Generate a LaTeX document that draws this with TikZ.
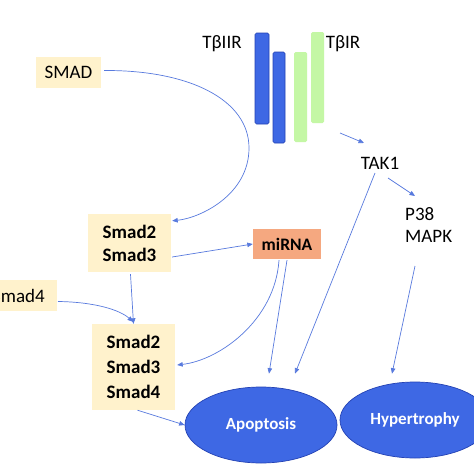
\documentclass[tikz,border=0pt]{standalone}
\usepackage{fontspec}
\setmainfont{Carlito}
\usetikzlibrary{arrows.meta,shapes.geometric}
\definecolor{boxyellow}{RGB}{255,242,204}
\definecolor{mirna}{RGB}{245,168,128}
\definecolor{cellblue}{RGB}{62,104,228}
\definecolor{cellborder}{RGB}{36,66,180}
\definecolor{rgreen}{RGB}{196,247,165}
\definecolor{arrowblue}{RGB}{88,122,222}
\begin{document}
\begin{tikzpicture}[x=1pt,y=-1pt,
  every node/.style={inner sep=0pt,font=\fontsize{19}{23}\selectfont},
  ybox/.style={fill=boxyellow,draw=none,rectangle,align=center},
  cell/.style={ellipse,fill=cellblue,draw=cellborder,line width=0.7pt,text=white,font=\fontsize{17}{23}\selectfont\bfseries},
  bar/.style={rectangle,rounded corners=1.5pt,line width=0.6pt},
  darkbar/.style={bar,fill=cellblue,draw=cellborder},
  greenbar/.style={bar,fill=rgreen,draw=none},
  arr/.style={draw=arrowblue,line width=0.7pt,-{Triangle[length=5.5pt,width=4.5pt]}},
  plain/.style={text=black}]
\useasboundingbox[fill=white] (0,0) rectangle (474,474);
% receptor bars
\node[darkbar,minimum width=14pt,minimum height=91pt] (b1) at (262,78.5) {};
\node[darkbar,minimum width=12pt,minimum height=91pt] (b2) at (279,97.5) {};
\node[greenbar,minimum width=13pt,minimum height=90pt] (b3) at (300.5,97) {};
\node[greenbar,minimum width=13pt,minimum height=91pt] (b4) at (317.5,77.5) {};
\node[plain] (t2) at (222,44) {TβIIR};
\node[plain] (t1) at (343,44) {TβIR};
% text nodes
\node[plain] (tak1) at (380,163) {TAK1};
\node[plain,align=left,anchor=west,font=\fontsize{19}{22}\selectfont] (p38) at (405,225) {P38\\MAPK};
% boxes
\node[ybox,minimum width=65pt,minimum height=31pt] (smad) at (68.5,72.5) {SMAD};
\node[ybox,minimum width=83pt,minimum height=58pt,font=\fontsize{19}{23}\selectfont\bfseries] (box1) at (129.5,243) {Smad2\\Smad3};
\node[ybox,anchor=east,inner xsep=12pt,minimum height=31pt] (smad4) at (57,295.5) {Smad4};
\node[ybox,minimum width=83pt,minimum height=86pt,font=\fontsize{19}{25}\selectfont\bfseries] (box2) at (133.5,367) {Smad2\\Smad3\\Smad4};
\node[rectangle,fill=mirna,minimum width=68pt,minimum height=30pt,font=\fontsize{17.5}{23}\selectfont\bfseries] (mirna) at (287,244) {miRNA};
% cells
\node[cell,minimum width=152pt,minimum height=76pt] (apop) at (261,425) {Apoptosis};
\node[cell,minimum width=150pt,minimum height=76pt] (hyper) at (415,420) {Hypertrophy};
% connectors
\coordinate (rc) at (340,133);
\draw[arr] ([shift={(3,-2)}]smad.east) .. controls (190,70) and (249,100) .. (249,148)
  .. controls (249,195) and (200,218) .. ([shift={(1,7)}]box1.north east);
\draw[arr] ([shift={(1,14)}]box1.east) -- (mirna.west);
\draw[arr] ([shift={(1,2)}]box1.south) -- (box2.north);
\draw[arr] ([shift={(1,6)}]smad4.east) .. controls (95,302) and (120,310) .. ([shift={(-0.5,-2)}]box2.north);
\draw[arr] ([shift={(-8,1)}]mirna.south) .. controls (275,320) and (220,360) .. ([shift={(2,-2)}]box2.east);
\draw[arr] ([shift={(0,1)}]mirna.south) -- ([shift={(8,-13)}]apop.north);
\draw[arr] ([shift={(-5,10)}]tak1.center) -- ([shift={(34,-13)}]apop.north);
\draw[arr] ([shift={(10,41)}]p38.west) -- ([shift={(-23,-8)}]hyper.north);
\draw[arr] ([shift={(4,0)}]box2.south) -- (apop.west);
\draw[arr] (rc) -- ([shift={(-16,-20)}]tak1.center);
\draw[arr] ([shift={(8,15)}]tak1.center) -- ([shift={(10,-29)}]p38.west);
\end{tikzpicture}
\end{document}
